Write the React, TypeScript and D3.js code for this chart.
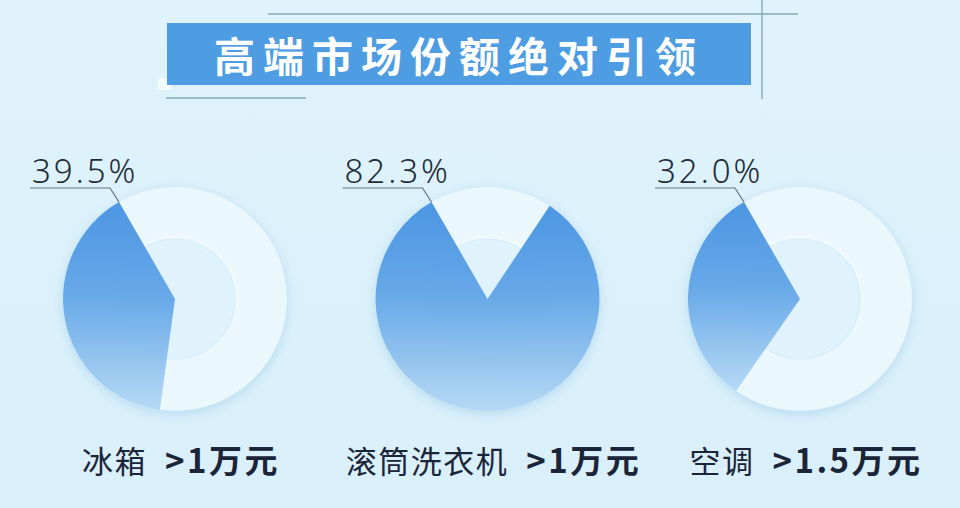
import React, { useEffect, useRef } from "react";
import * as d3 from "d3";

// chart values
const categories = ["冰箱", "滚筒洗衣机", "空调"];
const thresholds = [">1万元", ">1万元", ">1.5万元"];
const shares = [39.5, 82.3, 32.0];
const title = "高端市场份额绝对引领";

export default function App() {
  const ref = useRef<SVGSVGElement | null>(null);

  useEffect(() => {
    drawChart();
  }, []);

  function drawChart() {
    const width = 960;
    const height = 508;
    const svg = d3.select(ref.current);
    svg.selectAll("*").remove();

    const defs = svg.append("defs");

    const bg = defs
      .append("linearGradient")
      .attr("id", "bg")
      .attr("x1", 0)
      .attr("y1", 0)
      .attr("x2", 0)
      .attr("y2", 1);
    bg.append("stop").attr("offset", "0%").attr("stop-color", "#e0f3fc");
    bg.append("stop").attr("offset", "100%").attr("stop-color", "#d9effa");

    const wedgeGrad = defs
      .append("linearGradient")
      .attr("id", "wedge")
      .attr("x1", 0)
      .attr("y1", 0)
      .attr("x2", 0)
      .attr("y2", 1);
    wedgeGrad.append("stop").attr("offset", "0%").attr("stop-color", "#3f8ee0");
    wedgeGrad.append("stop").attr("offset", "45%").attr("stop-color", "#5ea3e7");
    wedgeGrad.append("stop").attr("offset", "100%").attr("stop-color", "#b2d7f4");

    const glow = defs
      .append("filter")
      .attr("id", "glow")
      .attr("x", "-30%")
      .attr("y", "-30%")
      .attr("width", "160%")
      .attr("height", "160%");
    glow
      .append("feDropShadow")
      .attr("dx", 0)
      .attr("dy", 3)
      .attr("stdDeviation", 6)
      .attr("flood-color", "#a9d4ec")
      .attr("flood-opacity", 0.75);

    const soft = defs
      .append("filter")
      .attr("id", "soft")
      .attr("x", "-30%")
      .attr("y", "-30%")
      .attr("width", "160%")
      .attr("height", "160%");
    soft
      .append("feDropShadow")
      .attr("dx", 0)
      .attr("dy", -2)
      .attr("stdDeviation", 3)
      .attr("flood-color", "#f6fcff")
      .attr("flood-opacity", 0.9);

    svg
      .append("rect")
      .attr("width", width)
      .attr("height", height)
      .attr("fill", "url(#bg)");

    // title decoration
    const deco = svg.append("g").attr("stroke", "#86a9b8").attr("stroke-width", 1.4);
    deco.append("line").attr("x1", 268).attr("x2", 798).attr("y1", 14).attr("y2", 14);
    deco.append("line").attr("x1", 762).attr("x2", 762).attr("y1", 0).attr("y2", 99);
    deco.append("line").attr("x1", 166).attr("x2", 306).attr("y1", 98).attr("y2", 98);

    svg
      .append("rect")
      .attr("x", 158)
      .attr("y", 78)
      .attr("width", 13)
      .attr("height", 12)
      .attr("fill", "#f4fbfe");

    svg
      .append("rect")
      .attr("x", 167)
      .attr("y", 23)
      .attr("width", 584)
      .attr("height", 62)
      .attr("fill", "#4e9de2");

    svg
      .append("text")
      .attr("x", 459)
      .attr("y", 54)
      .attr("text-anchor", "middle")
      .attr("dominant-baseline", "central")
      .attr("font-family", "'Noto Sans CJK SC', sans-serif")
      .attr("font-weight", 700)
      .attr("font-size", 41)
      .attr("letter-spacing", 8)
      .attr("fill", "#ffffff")
      .text(title);

    // pies
    const r = 112;
    const innerR = 60;
    const cy = 299;
    const x = d3.scalePoint<string>().domain(categories).range([175, 800]);
    const angle = d3.scaleLinear().domain([0, 100]).range([0, 2 * Math.PI]);
    const endAngle = -Math.PI / 6;

    const arc = d3
      .arc<any>()
      .innerRadius(0)
      .outerRadius(r)
      .startAngle((d) => endAngle - angle(d.value))
      .endAngle(endAngle);

    const fmt = d3.format(".1f");

    const pies = svg
      .selectAll("g.pie")
      .data(categories.map((c, i) => ({ name: c, value: shares[i], th: thresholds[i] })))
      .join("g")
      .attr("class", "pie")
      .attr("transform", (d) => `translate(${x(d.name)},${cy})`);

    pies
      .append("circle")
      .attr("r", r)
      .attr("fill", "#eaf7fd")
      .attr("filter", "url(#glow)");

    pies
      .append("circle")
      .attr("r", innerR)
      .attr("fill", "#e0f2fb")
      .attr("stroke", "#d4edf8")
      .attr("stroke-width", 1.2)
      .attr("filter", "url(#soft)");

    pies
      .append("path")
      .attr("d", arc)
      .attr("fill", "url(#wedge)")
      .attr("fill-opacity", 0.93);

    // leader line
    const tip = () => [r * Math.sin(endAngle), -r * Math.cos(endAngle)];
    pies
      .append("polyline")
      .attr("points", () => {
        const [tx, ty] = tip();
        return `${-145},${-111} ${tx - 9},${-111} ${tx},${ty}`;
      })
      .attr("fill", "none")
      .attr("stroke", "#5f7480")
      .attr("stroke-width", 1.2);

    pies
      .append("text")
      .attr("x", -143)
      .attr("y", -116)
      .attr("font-family", "'Noto Sans', sans-serif")
      .attr("font-weight", 300)
      .attr("font-size", 33)
      .attr("letter-spacing", 3)
      .attr("fill", "#1f2c38")
      .text((d) => `${fmt(d.value)}%`);

    const label = pies
      .append("text")
      .attr("x", 6)
      .attr("y", 174)
      .attr("text-anchor", "middle")
      .attr("font-family", "'Noto Sans CJK SC', sans-serif")
      .attr("fill", "#1b2539");
    label
      .append("tspan")
      .attr("font-weight", 400)
      .attr("font-size", 31)
      .attr("letter-spacing", 1.5)
      .text((d) => d.name);
    label
      .append("tspan")
      .attr("dx", 18)
      .attr("font-weight", 700)
      .attr("font-size", 33)
      .attr("letter-spacing", 2.5)
      .text((d) => d.th);
  }

  return (
    <svg
      ref={ref}
      width={960}
      height={508}
      style={{ position: "absolute", left: 0, top: 0 }}
    />
  );
}
